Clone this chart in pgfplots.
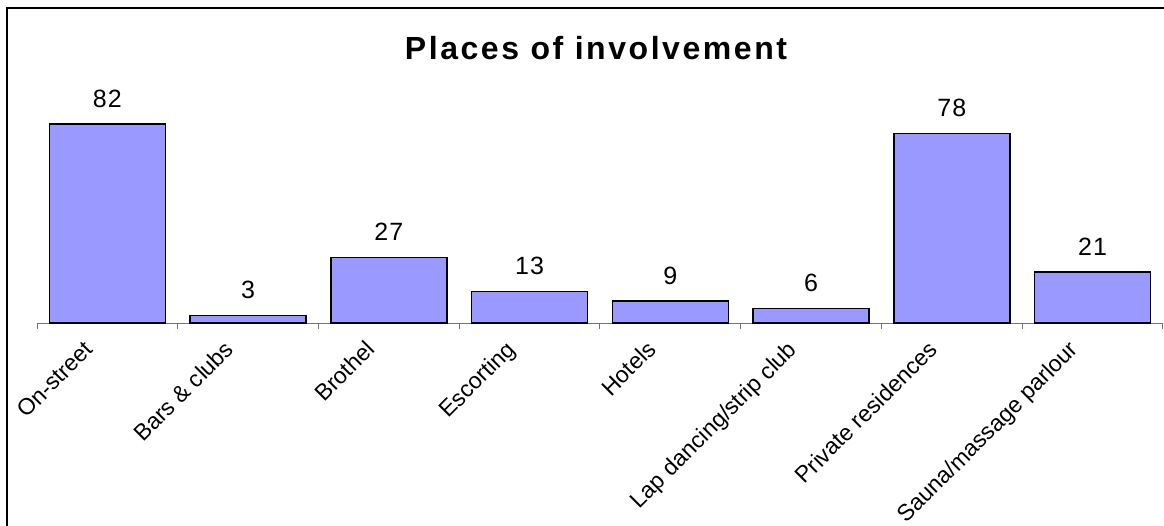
\documentclass[border=0pt]{standalone}
\usepackage{fontspec}
\setmainfont{Liberation Sans}
\newfontfamily\spaced[LetterSpace=8]{Liberation Sans}
\newfontfamily\numspaced[LetterSpace=5]{Liberation Sans}
\usepackage{pgfplots}
\pgfplotsset{compat=1.18}
\definecolor{barfill}{HTML}{9999FF}
\begin{document}
\begin{tikzpicture}
\path[use as bounding box] (0,0) rectangle (1164bp,-526bp);
\begin{axis}[
 at={(37bp,-323bp)}, anchor=south west,
 scale only axis, width=1126bp, height=218.4bp,
 xmin=-0.5, xmax=7.5, ymin=0, ymax=90,
 /pgf/number format/assume math mode=true,
 axis y line=none, axis x line=bottom,
 x axis line style={-, draw=black!55, line width=1bp},
 xtick={0,...,7},
 xticklabels={On-street, Bars \& clubs, Brothel, Escorting, Hotels, Lap dancing/strip club, Private residences, Sauna/massage parlour},
 major tick length=0pt,
 minor xtick={-0.5,0.5,...,7.5},
 minor tick length=6bp,
 tick align=outside,
 tick style={draw=black!55, line width=1bp},
 xticklabel style={font=\fontsize{23bp}{28bp}\selectfont, xshift=-13bp, yshift=-28bp, rotate=45, anchor=base east, inner sep=0pt},
 ybar, bar width=116bp,
 nodes near coords,
 every node near coord/.append style={font=\fontsize{25bp}{30bp}\selectfont\numspaced, anchor=south, inner sep=0pt, yshift=16bp},
 clip=false,
]
\addplot[fill=barfill, draw=black, line width=1.5bp] coordinates {(0,82) (1,3) (2,27) (3,13) (4,9) (5,6) (6,78) (7,21)};
\end{axis}
\node[anchor=base, font=\fontsize{32bp}{38bp}\selectfont\spaced\bfseries] at (596bp,-59bp) {Places of involvement};
\draw[line width=2bp] (7bp,-526bp) -- (7bp,-8bp) -- (1164bp,-8bp);
\end{tikzpicture}
\end{document}
